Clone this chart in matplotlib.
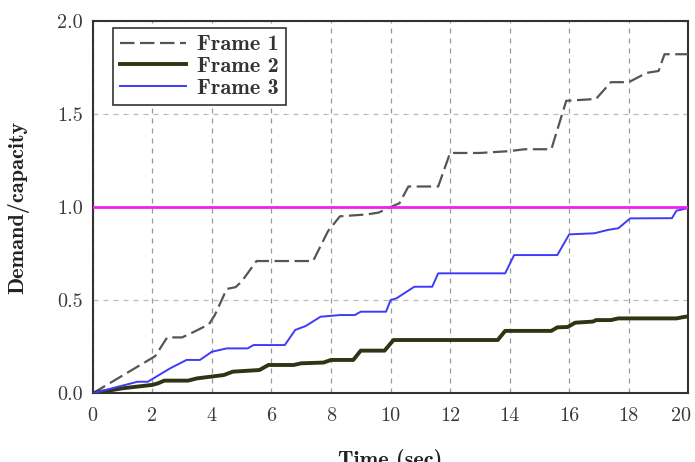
import matplotlib
matplotlib.use("Agg")
import matplotlib.pyplot as plt
import matplotlib.transforms as mtransforms

# ---- data ----
f1_t = [0, 2.0, 2.1, 2.5, 3.0, 3.4, 3.9, 4.1, 4.5, 4.8, 5.0, 5.5, 7.4, 7.9, 8.3, 9.2, 9.6,
        10.0, 10.3, 10.6, 11.6, 12.0, 13.0, 14.0, 14.5, 15.4, 15.9, 16.9, 17.4, 18.0,
        18.6, 19.0, 19.2, 20.0]
f1_v = [0, 0.19, 0.20, 0.30, 0.30, 0.33, 0.37, 0.42, 0.56, 0.57, 0.60, 0.71, 0.71, 0.87,
        0.95, 0.96, 0.97, 1.00, 1.02, 1.11, 1.11, 1.29, 1.29, 1.30, 1.31, 1.31, 1.57, 1.58,
        1.67, 1.67, 1.72, 1.73, 1.82, 1.82]

f2_t = [0, 1.0, 2.0, 2.2, 2.4, 3.2, 3.5, 3.95, 4.4, 4.7, 5.6, 5.9, 6.75, 7.0, 7.75, 8.0,
        8.75, 9.0, 9.8, 10.1, 13.6, 13.85, 15.4, 15.6, 15.95, 16.2, 16.8, 16.9, 17.4, 17.65,
        19.6, 19.9, 20.0]
f2_v = [0, 0.027, 0.045, 0.054, 0.068, 0.068, 0.08, 0.089, 0.098, 0.116, 0.125, 0.152,
        0.152, 0.161, 0.165, 0.179, 0.179, 0.229, 0.229, 0.286, 0.286, 0.335, 0.335, 0.354,
        0.356, 0.379, 0.385, 0.393, 0.393, 0.402, 0.402, 0.411, 0.412]

f3_t = [0, 1.5, 1.85, 2.6, 3.15, 3.6, 4.0, 4.5, 5.2, 5.4, 6.45, 6.8, 7.15, 7.65, 8.3,
        8.8, 9.0, 9.85, 10.0, 10.2, 10.8, 11.4, 11.6, 13.85, 14.15, 15.6, 16.0, 16.85,
        17.3, 17.65, 18.05, 19.45, 19.6, 20.0]
f3_v = [0, 0.062, 0.062, 0.134, 0.179, 0.179, 0.223, 0.241, 0.241, 0.259, 0.259, 0.340,
        0.361, 0.411, 0.42, 0.42, 0.438, 0.438, 0.50, 0.51, 0.572, 0.572, 0.644, 0.644,
        0.742, 0.742, 0.853, 0.859, 0.877, 0.886, 0.939, 0.94, 0.98, 0.995]

cap_t = [0, 20]
cap_v = [1.0, 1.0]

xticks = [0, 2, 4, 6, 8, 10, 12, 14, 16, 18, 20]
xtick_labels = ["0", "2", "4", "6", "8", "10", "12", "14", "16", "18", "20"]
yticks = [0.0, 0.5, 1.0, 1.5, 2.0]
ytick_labels = ["0.0", "0.5", "1.0", "1.5", "2.0"]

# ---- figure ----
fig = plt.figure(figsize=(6.95, 4.62), dpi=100)
ax = fig.add_axes([0.1334, 0.1487, 0.857, 0.8065])

ax.plot(f1_t, f1_v, color="#555555", lw=1.6, dashes=(6.5, 2.5), label="Frame 1", zorder=3)
ax.plot(f2_t, f2_v, color="#2e3512", lw=2.8, label="Frame 2", zorder=3)
ax.plot(f3_t, f3_v, color="#3c3cf8", lw=1.4, label="Frame 3", zorder=3)
ax.plot(cap_t, cap_v, color="#ee22ee", lw=2.0, zorder=4)

ax.set_xlim(0, 20)
ax.set_ylim(0, 2.0)
ax.set_xticks(xticks)
ax.set_xticklabels(xtick_labels, fontfamily="cmr10", fontsize=14.5, color="#3a3a3a")
ax.set_yticks(yticks)
ax.set_yticklabels(ytick_labels, fontfamily="cmr10", fontsize=14.5, color="#3a3a3a")
ax.tick_params(axis="x", length=0, pad=10)
ax.tick_params(axis="y", length=0, pad=7)

# last x tick label is nudged left so it stays inside the figure, as in the reference
last = ax.get_xticklabels()[-1]
last.set_transform(last.get_transform() +
                   mtransforms.ScaledTranslation(-0.07, 0, fig.dpi_scale_trans))

ax.grid(True, axis="x", color="#999999", ls=(0, (4, 4)), lw=0.9)
ax.grid(True, axis="y", color="#bbbbbb", ls=(0, (4, 4)), lw=0.9)
ax.set_axisbelow(True)

for s in ax.spines.values():
    s.set_color("#333333")
    s.set_linewidth(1.5)

ax.set_xlabel("Time (sec)", fontfamily="cmb10", fontsize=16, labelpad=17, color="#222222")
ax.set_ylabel("Demand/capacity", fontfamily="cmb10", fontsize=16, labelpad=20, color="#222222")

leg = ax.legend(loc="upper left", bbox_to_anchor=(0.034, 0.98), borderaxespad=0,
                fancybox=False, handlelength=3.0, prop={"family": "cmb10", "size": 16},
                borderpad=0.3, labelspacing=0.1, handletextpad=0.5, framealpha=1)
leg.get_frame().set_edgecolor("#333333")
leg.get_frame().set_linewidth(1.2)
for t in leg.get_texts():
    t.set_color("#333333")

fig.savefig("out.png", dpi=100)
